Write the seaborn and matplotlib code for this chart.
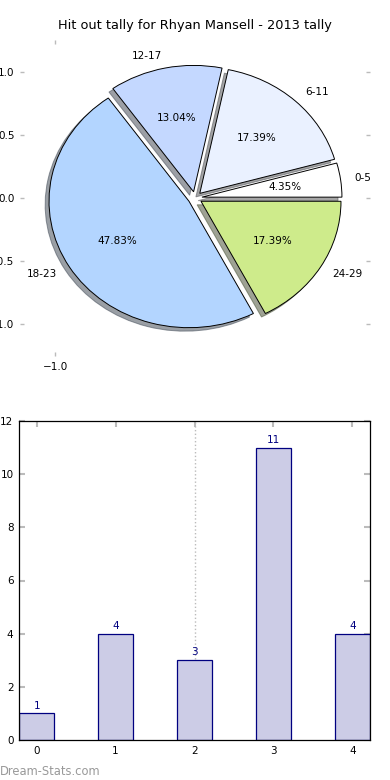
import matplotlib
matplotlib.use("Agg")
import matplotlib.pyplot as plt
import seaborn as sns
from matplotlib.ticker import FormatStrFormatter

# Données
tranches = ["0-5", "6-11", "12-17", "18-23", "24-29"]
nb_hitouts = [1, 4, 3, 11, 4]
couleurs_pie = ["#ffffff", "#eaf1ff", "#c4d8ff", "#b3d5ff", "#ceeb8b"]
positions = [0, 1, 2, 3, 4]
titre = "Hit out tally for Rhyan Mansell - 2013 tally"

sns.set_style("white")
plt.rcParams["font.family"] = ["DejaVu Sans"]
plt.rcParams["text.color"] = "black"
plt.rcParams["xtick.labelcolor"] = "black"
plt.rcParams["ytick.labelcolor"] = "black"

fig = plt.figure(figsize=(3.9, 7.8), dpi=100)

# --- Camembert ---
ax1 = fig.add_axes([20 / 390, 1 - 356 / 780, 350 / 390, 316 / 780])
ax1.pie(nb_hitouts, labels=tranches, colors=couleurs_pie, autopct="%.2f%%",
        explode=[0.05] * len(nb_hitouts), shadow=True, startangle=0,
        wedgeprops=dict(edgecolor="black", linewidth=0.7),
        textprops=dict(fontsize=7.5, color="black"))
ax1.set_aspect("auto")
ax1.set_xlim(-1.25, 1.25)
ax1.set_ylim(-1.25, 1.25)
ax1.set_frame_on(False)
ax1.set_xticks([-1.0])
ax1.set_yticks([-1.0, -0.5, 0.0, 0.5, 1.0])
ax1.xaxis.set_major_formatter(FormatStrFormatter("%.1f"))
ax1.set_xticklabels(["\u22121.0"])
ax1.tick_params(direction="in", length=3, width=1, color="#bbbbbb",
                labelsize=7.5, pad=4, top=True, right=True, bottom=True, left=True)
ax1.set_title(titre, fontsize=9.3, pad=8, color="black")

# --- Histogramme ---
ax2 = fig.add_axes([19 / 390, 40 / 780, 351 / 390, 319 / 780])
sns.barplot(x=positions, y=nb_hitouts, ax=ax2, width=0.45, color="#ccccE6",
            saturation=1, edgecolor="#000080", linewidth=0.9)
for c in ax2.containers:
    ax2.bar_label(c, color="#000080", fontsize=7.5, padding=2)
ax2.axvline(2, color="#bbbbbb", linestyle=":", linewidth=1, zorder=0)
ax2.set_xlim(-0.225, 4.225)
ax2.set_ylim(0, 12)
ax2.set_yticks(range(0, 13, 2))
for s in ax2.spines.values():
    s.set_visible(True)
    s.set_color("black")
    s.set_linewidth(0.9)
ax2.tick_params(direction="in", length=4, width=1.5, color="#bbbbbb",
                labelsize=7.5, pad=4, top=True, right=True, bottom=True, left=True)

fig.text(0.0, 0.007, "Dream-Stats.com", color="#999999", fontsize=8.3)

plt.savefig("out.png", dpi=100)
